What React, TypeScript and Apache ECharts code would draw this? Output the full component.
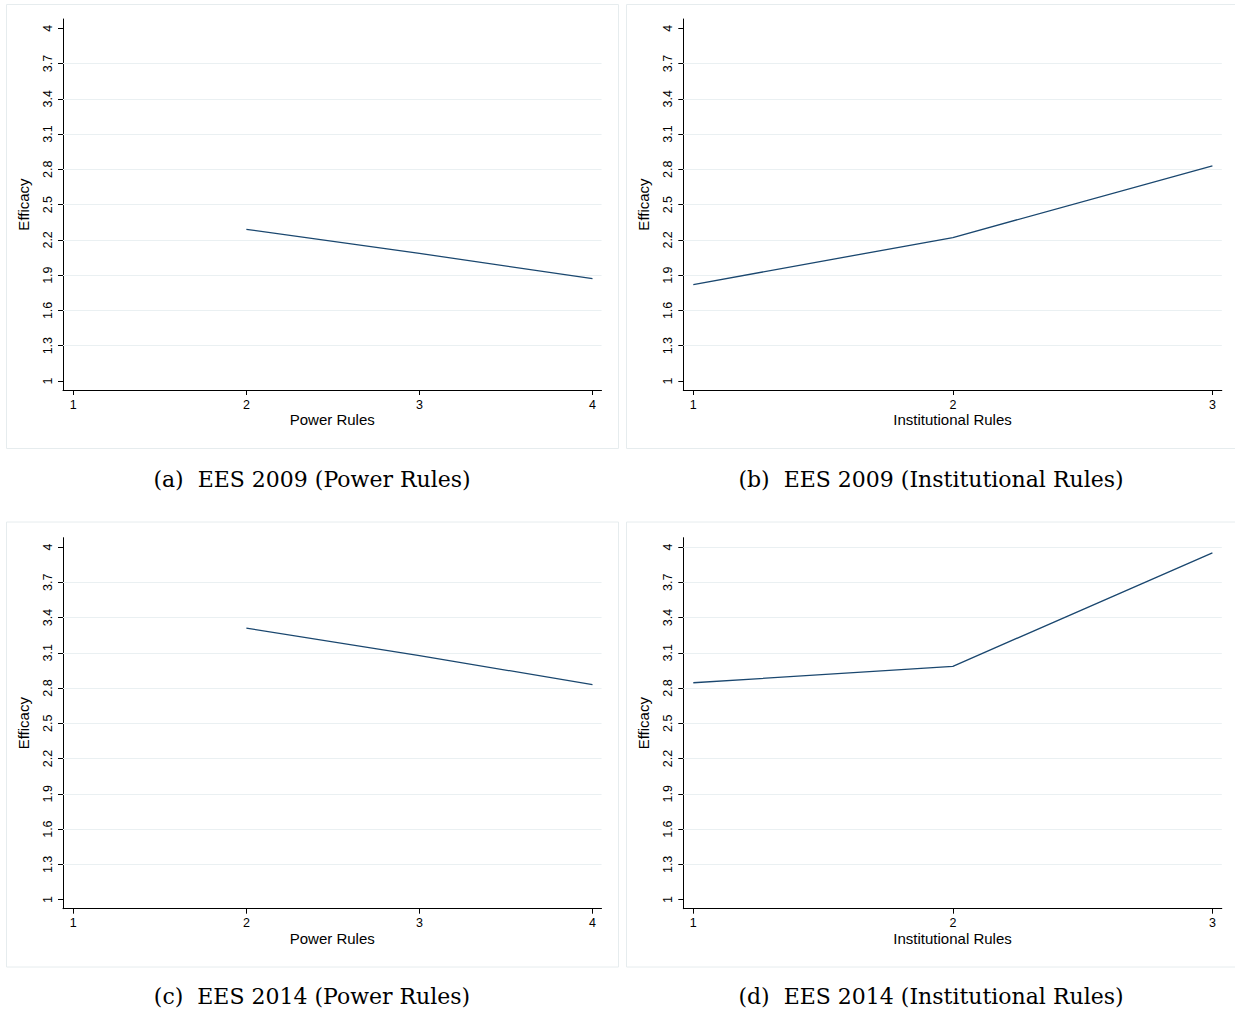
import React, { useEffect, useRef } from "react";
import * as echarts from "echarts";

// ---- data ----
const powerRules = [2, 3, 4];
const institutionalRules = [1, 2, 3];
const efficacy2009Power = [2.29, 2.085, 1.87];
const efficacy2009Inst = [1.82, 2.22, 2.83];
const efficacy2014Power = [3.31, 3.075, 2.83];
const efficacy2014Inst = [2.845, 2.985, 3.95];
const yTicks = [1, 1.3, 1.6, 1.9, 2.2, 2.5, 2.8, 3.1, 3.4, 3.7, 4];
const gridLinesStd = [1.3, 1.6, 1.9, 2.2, 2.5, 2.8, 3.1, 3.4, 3.7];
const gridLinesD = [1.3, 1.6, 1.9, 2.2, 2.5, 2.8, 3.1, 3.4, 3.7, 4];
const powerTicks = [1, 2, 3, 4];
const instTicks = [1, 2, 3];
const captions = [
  "(a)  EES 2009 (Power Rules)",
  "(b)  EES 2009 (Institutional Rules)",
  "(c)  EES 2014 (Power Rules)",
  "(d)  EES 2014 (Institutional Rules)",
];
const xTitles = ["Power Rules", "Institutional Rules", "Power Rules", "Institutional Rules"];
const yTitle = "Efficacy";

const LINE = "#1a476f";
const GRID = "#eaf0f2";
const SANS = "Liberation Sans, Arial, sans-serif";

export default function App() {
  const ref = useRef<HTMLDivElement>(null);
  useEffect(() => {
    document.body.style.margin = "0";
    if (!ref.current) return;
    const chart = echarts.init(ref.current, undefined, { renderer: "svg" });

    const panels = [
      { x: powerRules, y: efficacy2009Power, xt: powerTicks, xmin: 0.9405, xmax: 4.052, left: 63, top: 19, gl: gridLinesStd },
      { x: institutionalRules, y: efficacy2009Inst, xt: instTicks, xmin: 0.9615, xmax: 3.0362, left: 683.3, top: 19, gl: gridLinesStd },
      { x: powerRules, y: efficacy2014Power, xt: powerTicks, xmin: 0.9405, xmax: 4.052, left: 63, top: 537.7, gl: gridLinesStd },
      { x: institutionalRules, y: efficacy2014Inst, xt: instTicks, xmin: 0.9615, xmax: 3.0362, left: 683.3, top: 537.7, gl: gridLinesD },
    ];

    const grids = panels.map((p) => ({ left: p.left, top: p.top, width: 538.5, height: 371, containLabel: false }));
    const xAxes = panels.map((p, i) => ({
      type: "value",
      gridIndex: i,
      min: p.xmin,
      max: p.xmax,
      name: xTitles[i],
      nameLocation: "middle",
      nameGap: 22,
      nameTextStyle: { fontFamily: SANS, fontSize: 15, color: "#000" },
      axisLine: { show: true, onZero: false, lineStyle: { color: "#000", width: 1 } },
      axisTick: { show: true, length: 5, customValues: p.xt, lineStyle: { color: "#000" } },
      axisLabel: { show: true, customValues: p.xt, margin: 8, fontFamily: SANS, fontSize: 12.5, color: "#000", formatter: (v: number) => String(v) },
      splitLine: { show: false },
    }));
    const yAxes = panels.map((p, i) => ({
      type: "value",
      gridIndex: i,
      min: 0.923,
      max: 4.079,
      name: yTitle,
      nameLocation: "middle",
      nameGap: 32,
      nameTextStyle: { fontFamily: SANS, fontSize: 15, color: "#000" },
      axisLine: { show: true, onZero: false, lineStyle: { color: "#000", width: 1 } },
      axisTick: { show: true, length: 5, customValues: yTicks, lineStyle: { color: "#000" } },
      axisLabel: { show: true, customValues: yTicks, rotate: 90, margin: 9, fontFamily: SANS, fontSize: 12.5, color: "#000", formatter: (v: number) => String(v) },
      splitLine: { show: false },
    }));
    const series = panels.map((p, i) => ({
      type: "line",
      xAxisIndex: i,
      yAxisIndex: i,
      data: p.x.map((xv, k) => [xv, p.y[k]]),
      showSymbol: false,
      symbol: "none",
      lineStyle: { color: LINE, width: 1.3 },
      z: 3,
      markLine: {
        silent: true,
        symbol: "none",
        z: 1,
        label: { show: false },
        lineStyle: { color: GRID, width: 1.2, type: "solid" },
        data: p.gl.map((v) => ({ yAxis: v })),
      },
    }));

    const frames = [
      { x: 6, y: 4, w: 612, h: 444 },
      { x: 626, y: 4, w: 612, h: 444 },
      { x: 6, y: 521.5, w: 612, h: 445 },
      { x: 626, y: 521.5, w: 612, h: 445 },
    ];
    const capPos = [
      { x: 312, y: 479 },
      { x: 931, y: 479 },
      { x: 312, y: 996 },
      { x: 931, y: 996 },
    ];
    const graphic = [
      ...frames.map((f) => ({
        type: "rect",
        silent: true,
        z: -1,
        shape: { x: f.x + 0.5, y: f.y + 0.5, width: f.w, height: f.h },
        style: { fill: "#ffffff", stroke: "#e6ecee", lineWidth: 1 },
      })),
      ...captions.map((c, i) => ({
        type: "text",
        silent: true,
        x: capPos[i].x,
        y: capPos[i].y,
        style: {
          text: c,
          fontFamily: "DejaVu Serif, serif",
          fontSize: 22,
          fill: "#000",
          textAlign: "center",
          textVerticalAlign: "middle",
        },
      })),
    ];

    chart.setOption({
      animation: false,
      backgroundColor: "#ffffff",
      grid: grids,
      xAxis: xAxes,
      yAxis: yAxes,
      series,
      graphic,
    });
    return () => chart.dispose();
  }, []);
  return <div ref={ref} style={{ width: 1235, height: 1013 }} />;
}
